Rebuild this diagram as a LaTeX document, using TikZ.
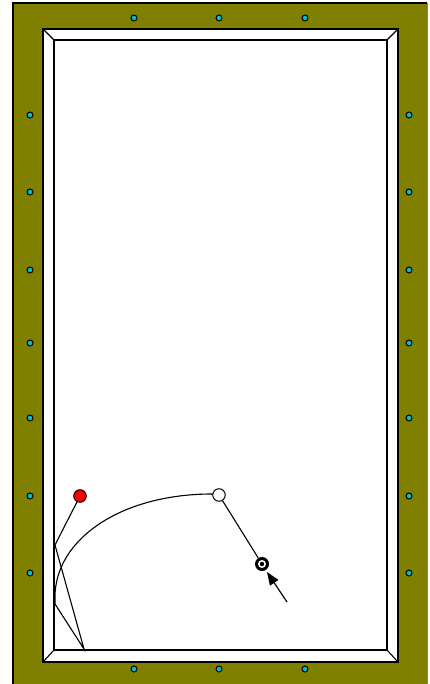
\documentclass[tikz,border=0pt]{standalone}
\usetikzlibrary{arrows.meta}
\definecolor{felt}{RGB}{128,128,0}
\definecolor{diam}{RGB}{0,190,210}
\tikzset{
  diamond dot/.style={circle, fill=diam, draw=black, line width=1pt, inner sep=0pt, minimum size=6pt},
  edge/.style={draw=black, line width=1.1pt},
  path line/.style={draw=black, line width=1.1pt},
  ballnode/.style={circle, draw=black, line width=1pt, inner sep=0pt, minimum size=12.5pt},
}
\begin{document}
\begin{tikzpicture}[x=1pt,y=-1pt]
\useasboundingbox (0,0) rectangle (430,684);
% table frame
\fill[felt] (13,3) rectangle (427,684);
\draw[black, line width=1.2pt] (13,684) -- (13,3) -- (427,3);
\draw[gray, line width=0.8pt] (427,3) -- (427,684);
% cushion
\fill[white] (43,29) rectangle (398,662);
\draw[edge] (43,29) rectangle (398,662);
\draw[edge] (54,40) rectangle (387,650);
\draw[edge] (43,29) -- (54,40);
\draw[edge] (398,29) -- (387,40);
\draw[edge] (43,662) -- (54,650);
\draw[edge] (398,662) -- (387,650);
% diamonds
\foreach \x [count=\i] in {134,219,305} {
  \node[diamond dot] (dt\i) at (\x,18) {};
  \node[diamond dot] (db\i) at (\x,669) {};
}
\foreach \y [count=\i] in {115,192,270,343,418,496,573} {
  \node[diamond dot] (dl\i) at (30,\y) {};
  \node[diamond dot] (dr\i) at (409,\y) {};
}
% path points
\coordinate (p1) at (55,545);
\coordinate (p2) at (84,649);
\coordinate (p3) at (55,604);
\coordinate (p4) at (55,597);
\coordinate (a0) at (212,494);
% balls
\node[ballnode, fill=red] (red) at (80,496) {};
\node[ballnode, fill=white] (cue) at (219,495) {};
\node[circle, fill=black, inner sep=0pt, minimum size=14pt] (target) at (262,564) {};
\fill[white] (target.center) circle (4.0);
\fill[black] (target.center) circle (2.2);
% paths
\draw[path line] (red) -- (p1) -- (p2) -- (p3) -- (p4);
\draw[path line] (cue.west) -- (a0) .. controls (120,494) and (55,540) .. (p4);
\draw[path line] (cue) -- (target);
\coordinate (atail) at (287,602);
\draw[black, line width=1.2pt, -{Triangle[length=13pt,width=10pt]}] (atail) -- (267,572);
\end{tikzpicture}
\end{document}
